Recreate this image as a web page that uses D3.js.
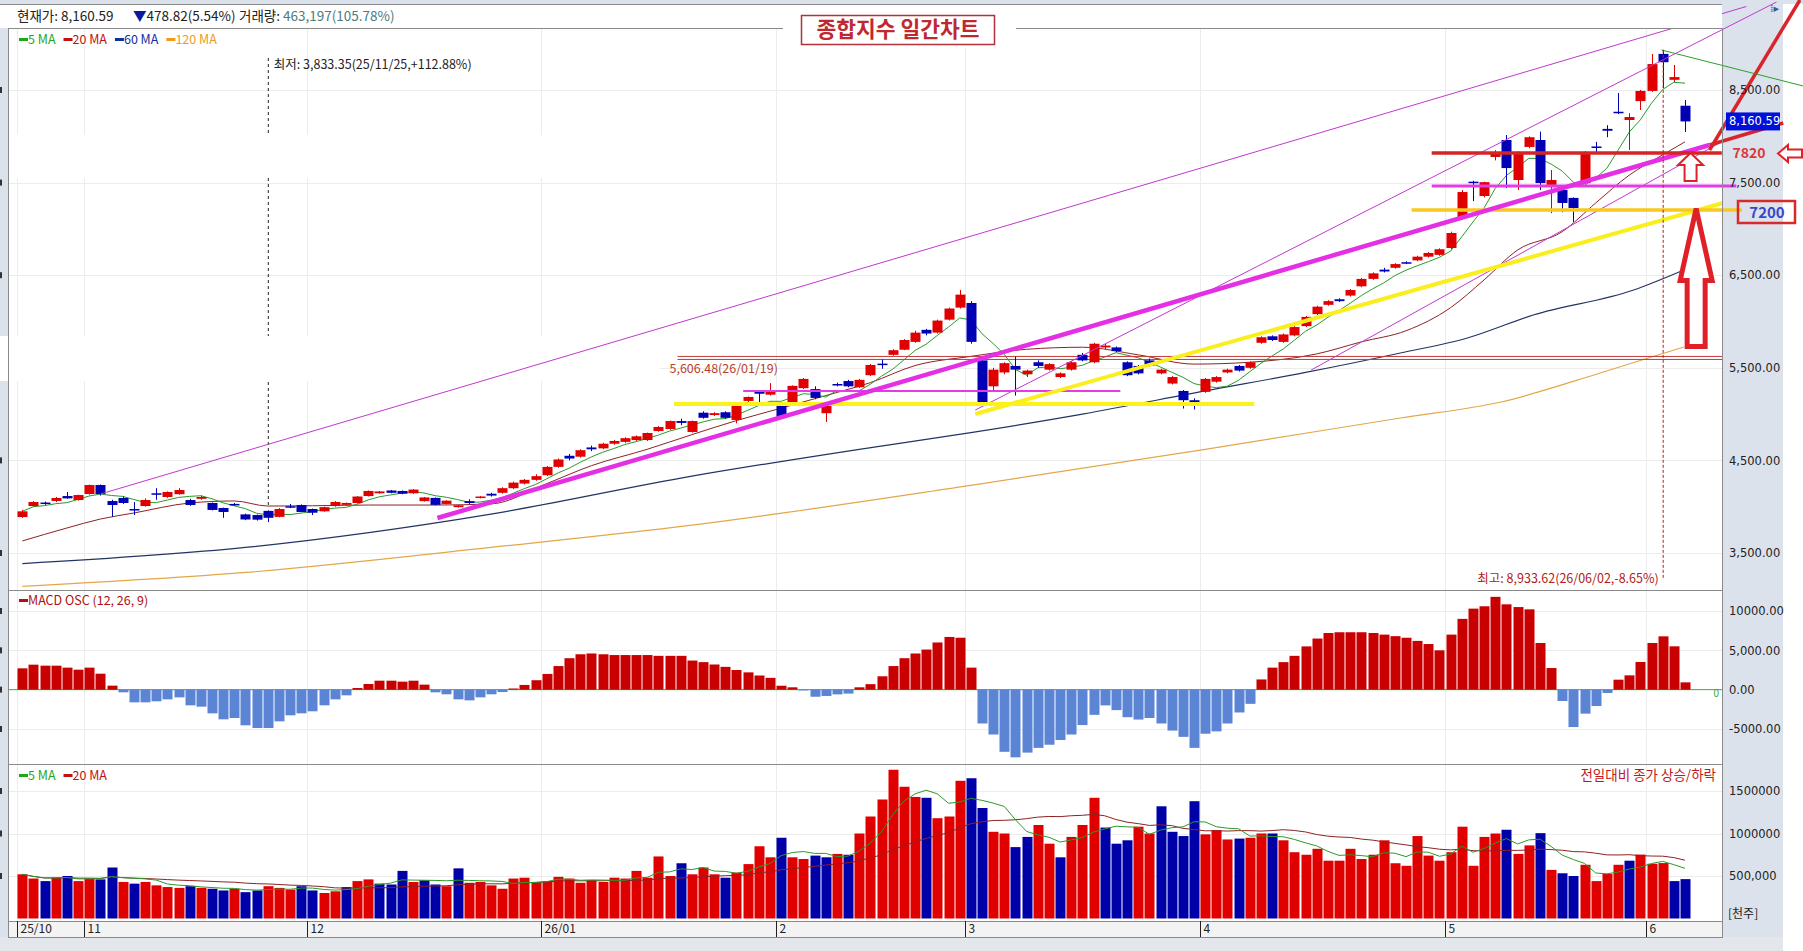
<!DOCTYPE html>
<html>
<head>
<meta charset="utf-8">
<script src="https://cdn.jsdelivr.net/npm/d3@7"></script>
<style>
body { margin: 0; background: #fff; }
svg { display: block; }
text { font-family: "Noto Sans CJK KR", "DejaVu Sans", sans-serif; }
.ax text { font-family: "DejaVu Sans", sans-serif; font-size: 11.5px; fill: #222; }
</style>
</head>
<body>
<div id="graph"></div>
<script>
// daily OHLC, index 0 = 25/10/24 ... 149 = 26/06/04
var opens = [3888,4007,4045,4062,4115,4072,4137,4234,4061,4094,
  3975,4007,4145,4105,4135,4072,4085,4040,3986,4030,
  3917,3910,3955,3890,4005,4018,3975,3950,4007,4020,
  4040,4115,4145,4175,4170,4145,4060,4095,4030,3995,
  4060,4095,4140,4150,4200,4250,4290,4340,4430,4550,
  4540,4640,4630,4680,4700,4720,4720,4817,4839,4925,
  4807,5015,4990,5020,4937,5142,5240,5210,5088,5120,
  5280,5270,5010,5325,5357,5290,5420,5545,5640,5695,
  5780,5910,5880,6020,6150,6200,5580,5300,5450,5520,
  5430,5560,5480,5400,5480,5640,5560,5720,5720,5560,
  5520,5580,5440,5330,5250,5150,5240,5350,5450,5520,
  5500,5770,5840,5780,5850,5950,6080,6180,6240,6280,
  6380,6460,6560,6580,6640,6660,6700,6720,6794,7118,
  7510,7355,7777,7960,7528,7885,7960,7475,7420,7335,
  7495,7890,8080,8265,8176,8380,8490,8890,8610,8330];
var highs = [3965,4060,4055,4105,4159,4130,4240,4240,4075,4110,
  4050,4090,4200,4165,4200,4085,4120,4045,3990,4040,
  3925,3915,3960,3985,4030,4025,3980,4000,4060,4045,
  4115,4175,4170,4180,4175,4190,4105,4100,4070,4020,
  4080,4115,4150,4210,4270,4300,4350,4440,4520,4570,
  4620,4660,4690,4720,4750,4770,4800,4870,4930,4950,
  4930,5030,5020,5030,5090,5190,5260,5335,5130,5310,
  5390,5300,5110,5340,5370,5380,5540,5590,5700,5810,
  5900,5920,6020,6150,6340,6220,5600,5500,5560,5620,
  5480,5580,5550,5450,5570,5660,5770,5760,5730,5570,
  5530,5600,5490,5410,5260,5170,5390,5410,5490,5530,
  5570,5840,5850,5870,5950,6060,6170,6230,6250,6350,
  6470,6530,6580,6630,6650,6710,6750,6790,6970,7420,
  7520,7510,7850,8014,7840,8000,8050,7636,7430,7340,
  7840,7940,8120,8468,8250,8500,8888,8933.62,8770,8392];
var lows = [3880,4000,4020,4050,4085,4065,4130,4120,3890,4030,
  3910,4000,4075,4095,4130,4010,4075,3960,3880,4010,
  3855,3850,3833.35,3885,3985,3940,3910,3945,4000,4015,
  4035,4110,4140,4145,4135,4140,4055,4015,4025,3990,
  4030,4090,4110,4140,4190,4240,4280,4330,4420,4500,
  4530,4600,4620,4670,4690,4710,4710,4810,4830,4880,
  4800,4950,4980,4950,4900,5130,5130,5200,4950,5110,
  5270,5160,4915,5300,5290,5280,5410,5490,5630,5690,
  5770,5850,5870,6010,6140,5760,5100,5250,5430,5200,
  5400,5500,5470,5390,5470,5570,5550,5700,5670,5410,
  5430,5510,5430,5320,5060,5050,5230,5340,5440,5460,
  5490,5760,5790,5770,5840,5940,6070,6170,6210,6270,
  6370,6450,6530,6570,6620,6650,6690,6710,6780,7100,
  7300,7340,7740,7440,7420,7870,7420,7170,7180,7075,
  7480,7820,7990,8240,7852,8284,8480,8520,8586,8046];
var closes = [3950,4051,4035,4094,4090,4126,4234,4137,4018,4040,
  3960,4072,4130,4159,4180,4018,4105,3965,3943,4015,
  3862,3860,3880,3975,3998,3943,3935,3995,4051,4040,
  4110,4170,4165,4150,4140,4185,4100,4020,4065,4015,
  4040,4110,4120,4200,4260,4290,4330,4430,4510,4520,
  4610,4620,4680,4710,4740,4760,4796,4861,4925,4905,
  4925,4960,5010,4960,5088,5185,5220,5240,4957,5305,
  5380,5175,5100,5315,5300,5370,5530,5535,5690,5800,
  5880,5870,6010,6140,6290,5780,5120,5480,5550,5480,
  5470,5520,5540,5440,5560,5580,5760,5740,5680,5420,
  5440,5520,5480,5400,5150,5100,5380,5400,5480,5470,
  5560,5830,5800,5860,5940,6050,6160,6220,6220,6340,
  6460,6520,6540,6620,6630,6700,6740,6780,6956,7398,
  7500,7505,7830,7657,7830,7990,7495,7528,7280,7226,
  7830,7880,8060,8250,8208,8490,8780,8800,8639.41,8160.59];

// volume in 천주
var volumes = [520000,470000,440000,480000,500000,440000,470000,460000,600000,430000,
  410000,430000,390000,370000,360000,380000,360000,350000,330000,350000,
  310000,330000,380000,360000,340000,380000,330000,300000,320000,370000,
  440000,460000,410000,400000,560000,430000,450000,400000,380000,590000,
  420000,430000,390000,350000,470000,480000,430000,440000,490000,470000,
  420000,450000,430000,480000,470000,560000,480000,730000,500000,650000,
  520000,600000,520000,480000,540000,640000,850000,720000,950000,720000,
  700000,740000,720000,760000,750000,1000000,1200000,1400000,1750000,1550000,
  1430000,1420000,1180000,1200000,1620000,1650000,1300000,1020000,1000000,840000,
  960000,1100000,880000,720000,960000,1100000,1420000,1070000,880000,920000,
  1080000,1000000,1320000,1020000,970000,1380000,990000,1040000,930000,940000,
  950000,1000000,1000000,920000,780000,750000,820000,680000,680000,820000,
  700000,750000,920000,650000,620000,970000,740000,680000,780000,1080000,
  620000,960000,1000000,1044000,760000,860000,1004000,572000,532000,500000,
  632000,440000,524000,632000,680000,752000,644000,652000,440000,463197];

// MACD oscillator (12, 26, 9)
var macdOsc = [2712,3178,3050,3050,2800,2540,2800,2030,510,-340,
  -1610,-1610,-1480,-1230,-975,-1990,-2160,-3010,-3770,-3600,
  -4530,-4870,-4870,-4025,-3260,-3010,-2750,-1990,-1230,-720,
  210,720,1140,1140,1020,1140,640,-340,-590,-1230,
  -1360,-975,-590,-300,150,600,1200,2000,3000,4000,
  4500,4600,4500,4400,4400,4400,4400,4300,4300,4300,
  3700,3500,3200,2900,2500,2200,1800,1500,500,300,
  -100,-900,-800,-600,-500,300,700,1700,3000,4000,
  4600,5100,6000,6700,6600,2800,-4300,-5700,-7900,-8600,
  -8000,-7400,-7000,-6400,-5700,-4500,-3200,-2000,-2600,-3500,
  -3800,-3600,-4300,-5200,-6000,-7400,-5600,-5300,-4300,-2900,
  -1800,1300,2800,3500,4300,5500,6500,7200,7300,7300,
  7300,7200,7000,6800,6600,6200,5800,5000,7000,9000,
  10300,10600,11800,10850,10500,10210,5930,2750,-1440,-4750,
  -3050,-2080,-420,1270,1820,3520,5930,6780,5510,930];

// moving averages: [index, value]
var ma20Pts = [[0,3630],[4,3770],[7,3867],[10,3932],[15,4040],[19,4062],[22,4007],[26,4010],[31,4018],[37,4018],
  [42,4030],[47,4250],[51,4443],[56,4620],[60,4778],[64,4930],[68,5064],[72,5200],[76,5340],[80,5524],
  [85,5623],[90,5700],[95,5722],[100,5640],[105,5540],[110,5560],[116,5650],[120,5780],[124,5900],[128,6150],
  [131,6450],[134,6772],[138,6970],[141,7280],[144,7580],[147,7800],[149,7940]];
var ma60Pts = [[0,3386],[20,3560],[42,3920],[60,4330],[75,4620],[85,4800],[95,5000],[106,5250],[115,5450],
  [123.5,5660],[129.5,5822],[135.4,6070],[144.4,6340],[148.9,6556]];
var ma120Pts = [[0,3140],[20,3290],[42,3560],[60,3800],[85,4230],[106,4620],[123.5,4958],[132.5,5131],
  [141.4,5444],[146,5617],[148.9,5725]];

var monthIdx = [0, 6, 26, 47, 68, 85, 106, 128, 146];
var monthLabels = ["25/10", "11", "12", "26/01", "2", "3", "4", "5", "6"];
var priceTicks = [3500, 4500, 5500, 6500, 7500, 8500];
var macdTicks = [-5000, 0, 5000, 10000];
var macdTickLabels = ["-5000.00", "0.00", "5,000.00", "10000.00"];
var volTicks = [500000, 1000000, 1500000];
var volTickLabels = ["500,000", "1000000", "1500000"];

var lowIdx = 22, lowVal = 3833.35, highIdx = 147, highVal = 8933.62, refIdx = 58, refVal = 5606.48;

// hand-drawn trend lines: [[index, price], [index, price]]
var thinPurple = [[[7, 4137], [154.5, 9402]], [[85.4, 5044], [157.2, 9450]], [[115.5, 5476], [152.1, 7928]]];
var thickMagenta = [[37.2, 3878], [151.2, 7906]];
var redLines = [[[151.2, 7906], [157.8, 8144]], [[151.2, 7852], [159.3, 9472]]];
var yellowDiag = [[85.4, 5001], [152.4, 7280]];
var greenLine = [[146.9, 8932], [159.6, 8543]];
// horizontal levels: [price, fromIndex, toIndex]
var magentaLevels = [[5250, 64.6, 98.4], [7463, 126.3, 153.6]];
var yellowLevels = [[5109, 58.4, 110.4], [7204, 124.5, 154.1]];
var redLevel = [7820, 126.3, 152.3];

var N = closes.length;
var width = 1803, height = 951;
var plotL = 8, plotR = 1722;
var pTop = 28, pBot = 590, mBot = 764, vBot = 921, aBot = 937;

var svg = d3.select("#graph").append("svg")
    .attr("width", width)
    .attr("height", height);

var x = d3.scaleBand().domain(d3.range(N)).range([17.4, 1689.9]).paddingInner(0.12);
var bw = x.bandwidth();
var xl = d3.scaleLinear().domain([0, N - 1]).range([x(0) + bw / 2, x(N - 1) + bw / 2]);
var step = x.step();
var y = d3.scaleLinear().domain([3500, 8500]).range([553, 90]);
var ym = d3.scaleLinear().domain([-5000, 10000]).range([729, 611]);
var yv = d3.scaleLinear().domain([0, 1500000]).range([918.5, 791]);

// backgrounds
svg.append("rect").attr("width", width).attr("height", height).attr("fill", "#fff");
svg.append("rect").attr("x", 0).attr("y", 0).attr("width", width).attr("height", 4).attr("fill", "#dbe2ec");
svg.append("rect").attr("x", 0).attr("y", 28).attr("width", plotL).attr("height", aBot - 28).attr("fill", "#dbe2ec");
svg.append("rect").attr("x", plotR).attr("y", 0).attr("width", 1783 - plotR).attr("height", aBot).attr("fill", "#dbe2ec");
svg.append("rect").attr("x", 0).attr("y", aBot).attr("width", 1783).attr("height", height - aBot).attr("fill", "#e3e7ec");
svg.append("rect").attr("x", plotL).attr("y", vBot).attr("width", plotR - plotL).attr("height", aBot - vBot).attr("fill", "#f3f3f3");

// grid
var grid = svg.append("g").attr("stroke", "#ececec").attr("stroke-width", 1);
priceTicks.forEach(function(t) {
  grid.append("line").attr("x1", plotL).attr("x2", plotR).attr("y1", Math.round(y(t)) + 0.5).attr("y2", Math.round(y(t)) + 0.5);
});
macdTicks.forEach(function(t) {
  if (t !== 0) grid.append("line").attr("x1", plotL).attr("x2", plotR).attr("y1", Math.round(ym(t)) + 0.5).attr("y2", Math.round(ym(t)) + 0.5);
});
volTicks.forEach(function(t) {
  grid.append("line").attr("x1", plotL).attr("x2", plotR).attr("y1", Math.round(yv(t)) + 0.5).attr("y2", Math.round(yv(t)) + 0.5);
});
monthIdx.forEach(function(i) {
  var gx = Math.round(x(i) - step * 0.06) + 0.5;
  grid.append("line").attr("x1", gx).attr("x2", gx).attr("y1", pTop).attr("y2", vBot);
});

// left axis fragments (cut off)
priceTicks.forEach(function(t) {
  svg.append("rect").attr("x", 0).attr("y", y(t) - 3).attr("width", 2).attr("height", 6).attr("fill", "#333");
});
macdTicks.forEach(function(t) {
  svg.append("rect").attr("x", 0).attr("y", ym(t) - 3).attr("width", 2).attr("height", 6).attr("fill", "#333");
});
volTicks.forEach(function(t) {
  svg.append("rect").attr("x", 0).attr("y", yv(t) - 3).attr("width", 2).attr("height", 6).attr("fill", "#333");
});

// white patches over the price panel
svg.append("rect").attr("x", plotL + 1).attr("y", 135).attr("width", 652).attr("height", 43).attr("fill", "#fff");
svg.append("rect").attr("x", 0).attr("y", 336).attr("width", 660).attr("height", 45).attr("fill", "#fff");

// low marker dashed line
svg.append("line")
    .attr("x1", xl(lowIdx) + 0.5).attr("x2", xl(lowIdx) + 0.5)
    .attr("y1", 58).attr("y2", y(4000))
    .attr("stroke", "#222").attr("stroke-dasharray", "3,3");
svg.append("rect").attr("x", xl(lowIdx) - 3).attr("y", 135).attr("width", 6).attr("height", 43).attr("fill", "#fff");
svg.append("rect").attr("x", xl(lowIdx) - 3).attr("y", 336).attr("width", 6).attr("height", 45).attr("fill", "#fff");
svg.append("text").attr("x", xl(lowIdx) + 6).attr("y", 69)
    .style("font-size", "12.5px").attr("fill", "#222")
    .text("최저: 3,833.35(25/11/25,+112.88%)");

// moving average lines
var line = d3.line().x(function(d) { return xl(d[0]); }).y(function(d) { return y(d[1]); });
var ma5 = closes.map(function(c, i) {
  var s = closes.slice(Math.max(0, i - 4), i + 1);
  return [i, d3.mean(s)];
});
svg.append("path").datum(ma120Pts).attr("d", line.curve(d3.curveMonotoneX)).attr("fill", "none").attr("stroke", "#e3a74a").attr("stroke-width", 1.2);
svg.append("path").datum(ma60Pts).attr("d", line).attr("fill", "none").attr("stroke", "#233564").attr("stroke-width", 1.2);
svg.append("path").datum(ma20Pts).attr("d", line).attr("fill", "none").attr("stroke", "#8e2222").attr("stroke-width", 1);
svg.append("path").datum(ma5).attr("d", line.curve(d3.curveLinear)).attr("fill", "none").attr("stroke", "#2a9a2a").attr("stroke-width", 1);

// 5,606.48 reference level
[-1.5, 1.5].forEach(function(o) {
  svg.append("line").attr("x1", xl(refIdx) + 8).attr("x2", plotR)
      .attr("y1", y(refVal) + o).attr("y2", y(refVal) + o)
      .attr("stroke", "#c23a3a").attr("stroke-width", 1);
});
svg.append("text").attr("x", xl(refIdx)).attr("y", y(refVal) + 15)
    .style("font-size", "12.5px").attr("fill", "#b8402a")
    .text("5,606.48(26/01/19)");

// candles
var up = "#e00000", down = "#0000b4";
var candles = svg.append("g").selectAll("g").data(d3.range(N)).enter().append("g");
candles.append("line")
    .attr("x1", function(i) { return Math.round(xl(i)) + 0.5; })
    .attr("x2", function(i) { return Math.round(xl(i)) + 0.5; })
    .attr("y1", function(i) { return y(highs[i]); })
    .attr("y2", function(i) { return y(lows[i]); })
    .attr("stroke", function(i) { return closes[i] >= opens[i] ? up : down; });
candles.append("rect")
    .attr("x", function(i) { return Math.round(xl(i)) + 0.5 - 5; })
    .attr("width", 10)
    .attr("y", function(i) { return y(Math.max(opens[i], closes[i])); })
    .attr("height", function(i) { return Math.max(1.5, Math.abs(y(opens[i]) - y(closes[i]))); })
    .attr("fill", function(i) { return closes[i] >= opens[i] ? up : down; });

// hand-drawn lines
var seg = function(p, color, w) {
  svg.append("line")
      .attr("x1", xl(p[0][0])).attr("y1", y(p[0][1]))
      .attr("x2", xl(p[1][0])).attr("y2", y(p[1][1]))
      .attr("stroke", color).attr("stroke-width", w);
};
thinPurple.forEach(function(p) { seg(p, "#c238d0", 1); });
magentaLevels.forEach(function(l, k) {
  seg([[l[1], l[0]], [l[2], l[0]]], "#e53be5", k === 0 ? 2 : 3);
});
seg(yellowDiag, "#fbee1e", 4);
yellowLevels.forEach(function(l, k) {
  seg([[l[1], l[0]], [l[2], l[0]]], k === 0 ? "#fbf21a" : "#f8c81e", k === 0 ? 4 : 3.5);
});
seg(thickMagenta, "#e42fe4", 4.5);
seg([[redLevel[1], redLevel[0]], [redLevel[2], redLevel[0]]], "#d42424", 3.5);
redLines.forEach(function(p) { seg(p, "#d8252b", 3.5); });
seg(greenLine, "#2aa02a", 1);

// high marker
svg.append("line")
    .attr("x1", xl(highIdx) + 0.5).attr("x2", xl(highIdx) + 0.5)
    .attr("y1", y(highVal)).attr("y2", 580)
    .attr("stroke", "#b02020").attr("stroke-dasharray", "3,2");
svg.append("text").attr("x", xl(highIdx) - 4).attr("y", 583)
    .attr("text-anchor", "end")
    .style("font-size", "12.5px").attr("fill", "#b02020")
    .text("최고: 8,933.62(26/06/02,-8.65%)");

// MACD panel
svg.append("line").attr("x1", plotL).attr("x2", plotR).attr("y1", ym(0)).attr("y2", ym(0))
    .attr("stroke", "#3aaa3a").attr("stroke-width", 1);
svg.append("g").selectAll("rect").data(macdOsc).enter().append("rect")
    .attr("x", function(d, i) { return Math.round(xl(i)) + 0.5 - 5; })
    .attr("width", 10)
    .attr("y", function(d) { return d >= 0 ? ym(d) : ym(0); })
    .attr("height", function(d) { return Math.abs(ym(d) - ym(0)); })
    .attr("fill", function(d) { return d >= 0 ? "#c80000" : "#5b84d4"; });
svg.append("text").attr("x", 1719).attr("y", 697).attr("text-anchor", "end")
    .style("font-size", "10px").attr("fill", "#3aaa3a").text("0");

// volume panel
svg.append("g").selectAll("rect").data(volumes).enter().append("rect")
    .attr("x", function(d, i) { return Math.round(xl(i)) + 0.5 - 5; })
    .attr("width", 10)
    .attr("y", function(d) { return yv(d); })
    .attr("height", function(d) { return yv(0) - yv(d); })
    .attr("fill", function(d, i) { return i === 0 || closes[i] >= closes[i - 1] ? "#e00000" : "#0000a8"; });
var vline = d3.line().x(function(d) { return xl(d[0]); }).y(function(d) { return yv(d[1]); });
var vma = function(n) {
  return volumes.map(function(v, i) { return [i, d3.mean(volumes.slice(Math.max(0, i - n + 1), i + 1))]; });
};
svg.append("path").datum(vma(20)).attr("d", vline).attr("fill", "none").attr("stroke", "#8e2222").attr("stroke-width", 1);
svg.append("path").datum(vma(5)).attr("d", vline).attr("fill", "none").attr("stroke", "#2a9a2a").attr("stroke-width", 1);

// panel frames
var frame = svg.append("g").attr("stroke", "#8a8a8a").attr("fill", "none");
frame.append("rect").attr("x", plotL + 0.5).attr("y", pTop + 0.5).attr("width", plotR - plotL).attr("height", aBot - pTop);
[pBot, mBot, vBot].forEach(function(b) {
  frame.append("line").attr("x1", plotL).attr("x2", plotR).attr("y1", b + 0.5).attr("y2", b + 0.5);
});

// header
svg.append("rect").attr("x", 0).attr("y", 4).attr("width", plotR).attr("height", 24).attr("fill", "#fff");
svg.append("line").attr("x1", 0).attr("x2", plotR).attr("y1", 4.5).attr("y2", 4.5).attr("stroke", "#8a8a8a");
var hdr = svg.append("text").attr("x", 17).attr("y", 21).style("font-size", "13.5px").attr("fill", "#222");
hdr.append("tspan").text("현재가: 8,160.59");
hdr.append("tspan").attr("x", 133).attr("fill", "#0a1aa0").text("▼");
hdr.append("tspan").attr("fill", "#222").text("478.82(5.54%)");
hdr.append("tspan").attr("x", 239).text("거래량: ");
hdr.append("tspan").attr("fill", "#4d7c7c").text("463,197(105.78%)");

// title
svg.append("rect").attr("x", 783).attr("y", 18).attr("width", 233).attr("height", 30).attr("fill", "#fff");
svg.append("rect").attr("x", 801.5).attr("y", 15.5).attr("width", 193).attr("height", 29)
    .attr("fill", "#fff").attr("stroke", "#b3303a").attr("stroke-width", 1.5);
svg.append("text").attr("x", 898).attr("y", 37).attr("text-anchor", "middle")
    .style("font-size", "21.5px").style("font-weight", "bold").attr("fill", "#c0282f")
    .text("종합지수 일간차트");

// legends
var legend = function(items, ly) {
  var lx = 19;
  items.forEach(function(it) {
    svg.append("rect").attr("x", lx).attr("y", ly - 6).attr("width", 9).attr("height", 3).attr("fill", it[1]);
    var t = svg.append("text").attr("x", lx + 9).attr("y", ly).style("font-size", "12.5px").attr("fill", it[1]).text(it[0]);
    lx += t.node().getComputedTextLength() + 17;
  });
};
legend([["5 MA", "#1fa51f"], ["20 MA", "#c01010"], ["60 MA", "#1030a0"], ["120 MA", "#f09a20"]], 44);
legend([["MACD OSC (12, 26, 9)", "#b01010"]], 605);
legend([["5 MA", "#1fa51f"], ["20 MA", "#c01010"]], 780);
svg.append("text").attr("x", 1716).attr("y", 780).attr("text-anchor", "end")
    .style("font-size", "13.5px").attr("fill", "#c01818").text("전일대비 종가 상승/하락");

// right axes
svg.append("g").attr("class", "ax").attr("transform", "translate(1726,0)")
    .call(d3.axisRight(y).tickValues(priceTicks).tickFormat(d3.format(",.2f")).tickSize(0))
    .call(function(g) { g.select(".domain").remove(); });
svg.append("g").attr("class", "ax").attr("transform", "translate(1726,0)")
    .call(d3.axisRight(ym).tickValues(macdTicks).tickFormat(function(d, i) { return macdTickLabels[i]; }).tickSize(0))
    .call(function(g) { g.select(".domain").remove(); });
svg.append("g").attr("class", "ax").attr("transform", "translate(1726,0)")
    .call(d3.axisRight(yv).tickValues(volTicks).tickFormat(function(d, i) { return volTickLabels[i]; }).tickSize(0))
    .call(function(g) { g.select(".domain").remove(); });
svg.append("text").attr("x", 1728).attr("y", 918).style("font-size", "12px").attr("fill", "#222").text("[천주]");

// current price tag
svg.append("rect").attr("x", 1726).attr("y", y(8160.59) - 9).attr("width", 54).attr("height", 18).attr("fill", "#0010d8");
svg.append("text").attr("x", 1729).attr("y", y(8160.59) + 4)
    .style("font-family", "DejaVu Sans").style("font-size", "11.5px").attr("fill", "#fff").text("8,160.59");

// x axis months
monthIdx.forEach(function(i, k) {
  var gx = Math.round(x(i) - step * 0.06) + 0.5;
  svg.append("line").attr("x1", gx).attr("x2", gx).attr("y1", vBot).attr("y2", aBot).attr("stroke", "#222");
  svg.append("text").attr("x", gx + 3).attr("y", 933).style("font-size", "12px").attr("fill", "#222").text(monthLabels[k]);
});

// level labels and arrows
svg.append("text").attr("x", 1749).attr("y", y(7820) + 5).attr("text-anchor", "middle")
    .style("font-size", "14px").style("font-weight", "bold").attr("fill", "#d83a3a").text("7820");
svg.append("rect").attr("x", 1738).attr("y", 201).attr("width", 57).attr("height", 22)
    .attr("fill", "none").attr("stroke", "#d82a2a").attr("stroke-width", 2.5);
svg.append("text").attr("x", 1767).attr("y", 218).attr("text-anchor", "middle")
    .style("font-size", "15px").style("font-weight", "bold").attr("fill", "#3a48c8").text("7200");

var arrow = function(cx, tipY, headW, headH, shaftW, len, rot, sw) {
  var p = [[0, 0], [headW / 2, headH], [shaftW / 2, headH], [shaftW / 2, len], [-shaftW / 2, len],
    [-shaftW / 2, headH], [-headW / 2, headH]];
  svg.append("path")
      .attr("d", "M" + p.join("L") + "Z")
      .attr("transform", "translate(" + cx + "," + tipY + ") rotate(" + rot + ")")
      .attr("fill", "#fff").attr("stroke", "#e02028").attr("stroke-width", sw).attr("stroke-linejoin", "miter");
};
arrow(xl(149.5), y(7820), 25, 12, 12, 28, 0, 2);
arrow(1778, y(7820) + 0.5, 17, 10, 8, 24, -90, 2);
arrow(xl(150), y(7220), 32, 72, 18, 138, 0, 5);

// corner icon
svg.append("text").attr("x", 1770).attr("y", 12).style("font-size", "11px").attr("fill", "#3a5a9a").text("⁞▸");
</script>
</body>
</html>
